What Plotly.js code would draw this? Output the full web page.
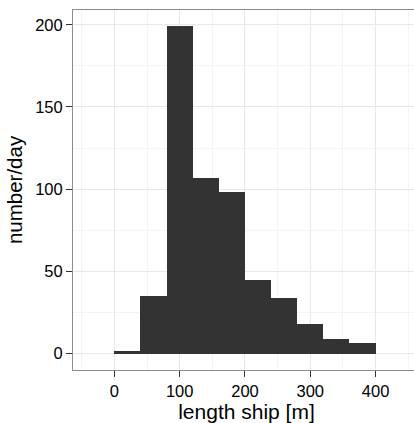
<!DOCTYPE html>
<html>
<head>
<meta charset="utf-8">
<script src="https://cdn.plot.ly/plotly-3.0.1.min.js"></script>
<style>
html,body{margin:0;padding:0;background:#fff;overflow:hidden;}
#chart{width:420px;height:423px;}
</style>
</head>
<body>
<div id="chart"></div>
<script>
// Histogram bins (ship length, m) and counts per day
const binStart = [0, 40, 80, 120, 160, 200, 240, 280, 320, 360];
const binWidth = 40;
const counts = [1.5, 35, 199, 107, 98, 44.5, 34, 18, 9, 6.5];
const xTicks = [0, 100, 200, 300, 400];
const yTicks = [0, 50, 100, 150, 200];

const xCenters = binStart.map(s => s + binWidth / 2);

const trace = {
  type: 'bar',
  x: xCenters,
  y: counts,
  width: binStart.map(() => binWidth),
  marker: {color: '#333333', line: {width: 0}},
  hoverinfo: 'x+y'
};

const font = {family: 'Liberation Sans, Arial, sans-serif', color: '#000'};

const layout = {
  width: 420,
  height: 423,
  margin: {l: 73, r: 0, t: 10, b: 53},
  paper_bgcolor: '#ffffff',
  plot_bgcolor: '#ffffff',
  showlegend: false,
  bargap: 0,
  xaxis: {
    range: [-63.3, 468],
    tickvals: xTicks,
    ticktext: xTicks.map(String),
    ticks: 'outside',
    ticklen: 6,
    tickwidth: 1,
    tickcolor: '#333333',
    tickfont: Object.assign({size: 16.5}, font),
    showgrid: true,
    gridcolor: '#e8e8e8',
    gridwidth: 1,
    minor: {dtick: 50, tick0: 0, showgrid: true, gridcolor: '#f4f4f4', gridwidth: 1, ticks: ''},
    zeroline: false,
    showline: true,
    linecolor: '#8c8c8c',
    linewidth: 1,
    mirror: true,
    title: {text: 'length ship [m]', font: Object.assign({size: 21}, font), standoff: 4}
  },
  yaxis: {
    range: [-9.95, 208.95],
    tickvals: yTicks,
    ticktext: yTicks.map(String),
    ticks: 'outside',
    ticklen: 6,
    tickwidth: 1,
    tickcolor: '#333333',
    tickfont: Object.assign({size: 16.5}, font),
    showgrid: true,
    gridcolor: '#e8e8e8',
    gridwidth: 1,
    minor: {dtick: 25, tick0: 0, showgrid: true, gridcolor: '#f4f4f4', gridwidth: 1, ticks: ''},
    zeroline: false,
    showline: true,
    linecolor: '#8c8c8c',
    linewidth: 1,
    mirror: true,
    title: {text: 'number/day', font: Object.assign({size: 20.5}, font), standoff: 6}
  }
};

Plotly.newPlot('chart', [trace], layout, {displayModeBar: false, staticPlot: true});
</script>
</body>
</html>
